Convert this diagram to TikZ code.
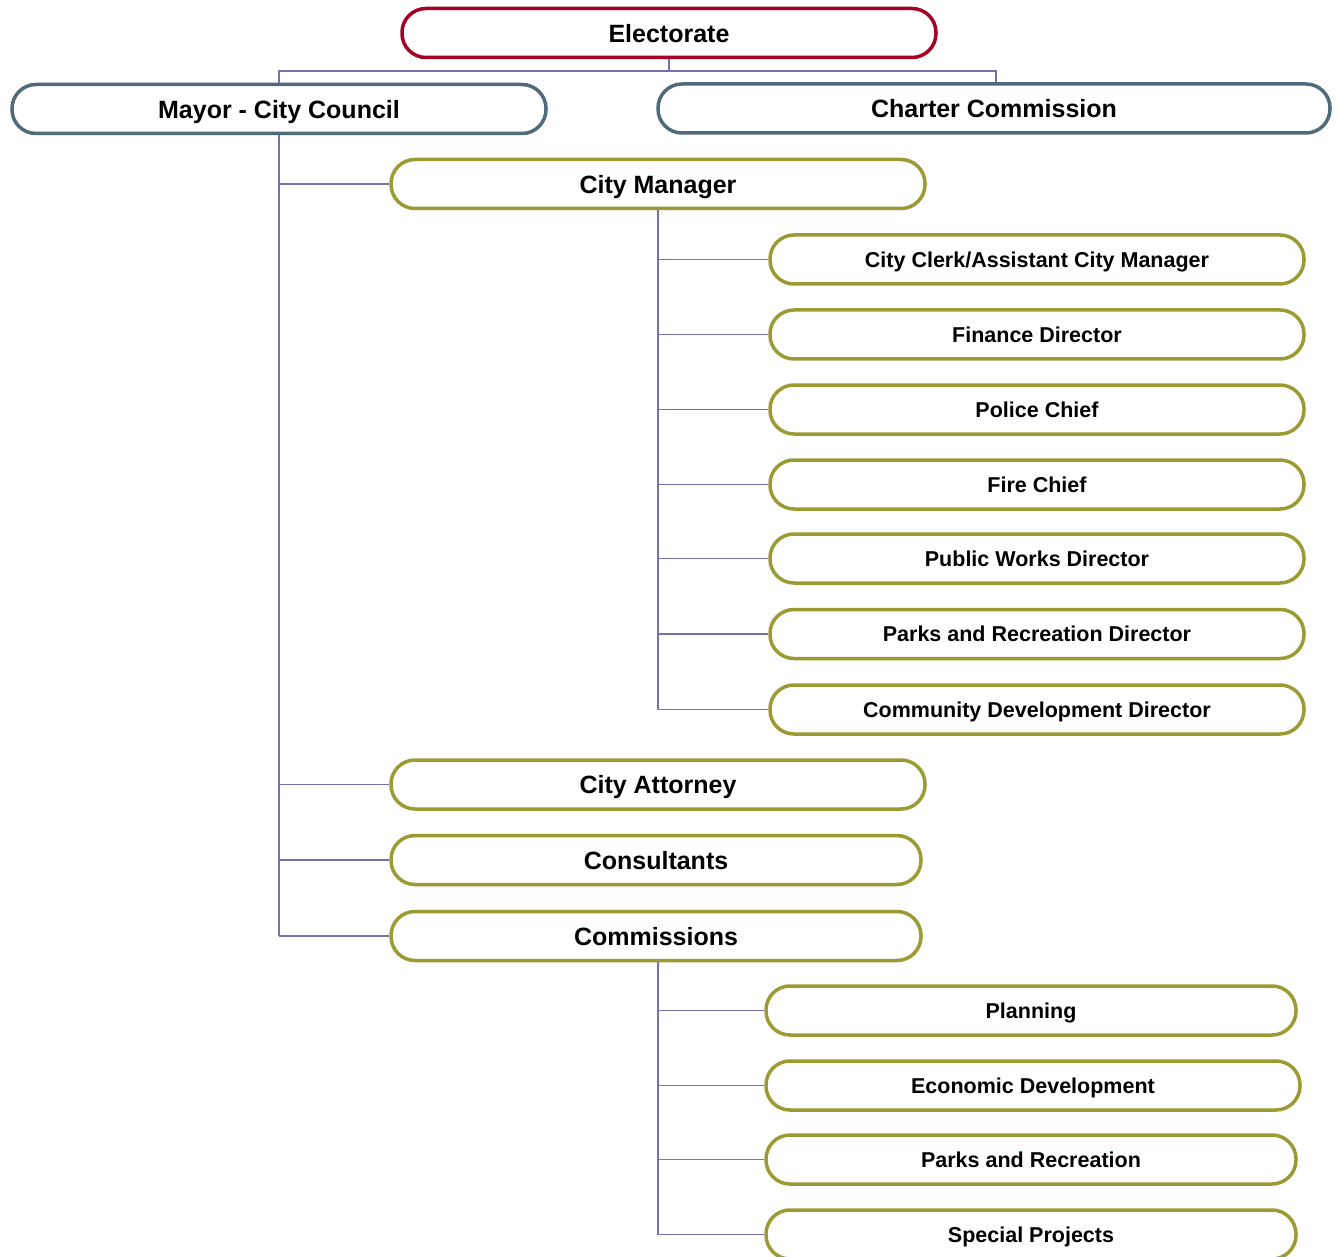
\documentclass[tikz,border=0pt]{standalone}
\usepackage{fontspec}
\setmainfont{Liberation Sans}
\begin{document}
\begin{tikzpicture}[x=1pt,y=-1pt,
  pill/.style={draw, fill=white, rectangle, rounded corners=24pt, line width=3.5pt,
    minimum height=49pt, inner sep=0pt, text depth=0pt,
    font=\bfseries\fontsize{25}{30}\selectfont},
  topbox/.style={pill, draw=elecred},
  govbox/.style={pill, draw=govblue},
  staffbox/.style={pill, draw=olive},
  subbox/.style={staffbox, font=\bfseries\fontsize{21.5}{26}\selectfont},
  link/.style={draw=linkpurple, line width=1.3pt}]
\definecolor{elecred}{HTML}{A50026}
\definecolor{govblue}{HTML}{4F6A7B}
\definecolor{olive}{HTML}{9C9A33}
\definecolor{linkpurple}{HTML}{7671AC}
\useasboundingbox (0,0) rectangle (1339,1257);
\clip (0,0) rectangle (1339,1257);

% junction below the electorate
\coordinate (split) at (669,71);

% boxes
\node[topbox, minimum width=534pt] (elec) at (669,33) {Electorate};
\node[govbox, minimum width=534pt] (mayor) at (279,109) {Mayor - City Council};
\node[govbox, minimum width=672pt] (charter) at (994,108.5) {Charter Commission};

\node[staffbox, minimum width=534pt] (mgr) at (658,184) {City Manager};
\node[subbox, minimum width=534pt] (clerk) at (1037,259.5) {City Clerk/Assistant City Manager};
\node[subbox, minimum width=534pt] (fin) at (1037,334.5) {Finance Director};
\node[subbox, minimum width=534pt] (police) at (1037,409.5) {Police Chief};
\node[subbox, minimum width=534pt] (fire) at (1037,484.5) {Fire Chief};
\node[subbox, minimum width=534pt] (pw) at (1037,558.5) {Public Works Director};
\node[subbox, minimum width=534pt] (prd) at (1037,634) {Parks and Recreation Director};
\node[subbox, minimum width=534pt] (cdd) at (1037,709.5) {Community Development Director};

\node[staffbox, minimum width=534pt] (atty) at (658,784.5) {City Attorney};
\node[staffbox, minimum width=530pt] (cons) at (656,860) {Consultants};
\node[staffbox, minimum width=530pt] (comm) at (656,936) {Commissions};

\node[subbox, minimum width=530pt] (plan) at (1031,1010.5) {Planning};
\node[subbox, minimum width=534pt] (econ) at (1033,1085.5) {Economic Development};
\node[subbox, minimum width=530pt] (parks) at (1031,1159.5) {Parks and Recreation};
\node[subbox, minimum width=530pt] (spec) at (1031,1234.5) {Special Projects};

% electorate to the two governing bodies
\draw[link] (elec.south) -- (split);
\draw[link] (split) -| (mayor.north);
\draw[link] (split) -| (charter.north -| 996,0);

% council to its direct reports
\draw[link] (mayor.south) -- (mayor.south |- comm.west);
\foreach \n in {mgr,atty,cons,comm}
  \draw[link] (mayor.south |- \n.west) -- (\n.west);

% city manager to department heads
\draw[link] (mgr.south) -- (mgr.south |- cdd.west);
\foreach \n in {clerk,fin,police,fire,pw,prd,cdd}
  \draw[link] (mgr.south |- \n.west) -- (\n.west);

% commissions to individual boards
\draw[link] (comm.south -| 658,0) -- (658,0 |- spec.west);
\foreach \n in {plan,econ,parks,spec}
  \draw[link] (658,0 |- \n.west) -- (\n.west);
\end{tikzpicture}
\end{document}
